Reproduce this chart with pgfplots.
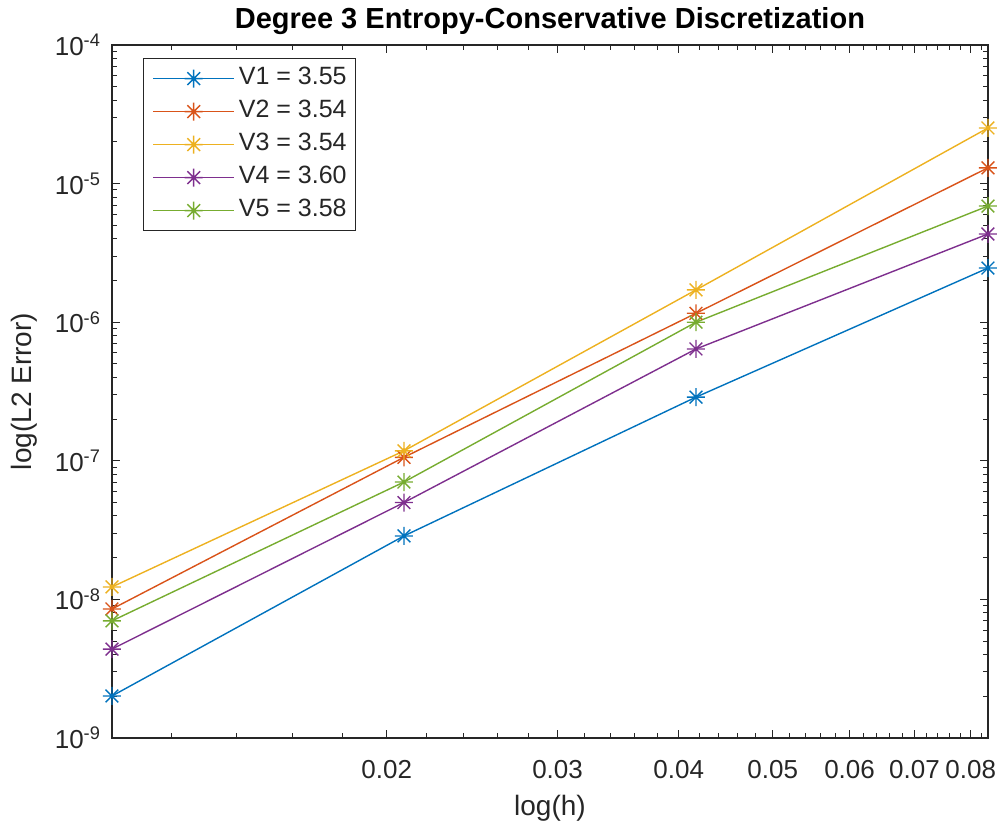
\documentclass[border=0pt]{standalone}
\usepackage{fontspec}
\setmainfont{Liberation Sans}
\usepackage{pgfplots}
\pgfplotsset{compat=1.18}
\definecolor{c1}{rgb}{0,0.447,0.741}
\definecolor{c2}{rgb}{0.85,0.325,0.098}
\definecolor{c3}{rgb}{0.929,0.694,0.125}
\definecolor{c4}{rgb}{0.494,0.184,0.556}
\definecolor{c5}{rgb}{0.466,0.674,0.188}
\definecolor{axgray}{rgb}{0.15,0.15,0.15}
\pgfdeclareplotmark{mast}{%
 \pgfpathmoveto{\pgfpoint{-\pgfplotmarksize}{0pt}}\pgfpathlineto{\pgfpoint{\pgfplotmarksize}{0pt}}%
 \pgfpathmoveto{\pgfpoint{0pt}{-\pgfplotmarksize}}\pgfpathlineto{\pgfpoint{0pt}{\pgfplotmarksize}}%
 \pgfpathmoveto{\pgfpoint{-0.707\pgfplotmarksize}{-0.707\pgfplotmarksize}}\pgfpathlineto{\pgfpoint{0.707\pgfplotmarksize}{0.707\pgfplotmarksize}}%
 \pgfpathmoveto{\pgfpoint{-0.707\pgfplotmarksize}{0.707\pgfplotmarksize}}\pgfpathlineto{\pgfpoint{0.707\pgfplotmarksize}{-0.707\pgfplotmarksize}}%
 \pgfusepathqstroke}
\begin{document}
\begin{tikzpicture}
\useasboundingbox (-56pt,-45pt) rectangle (447pt,369pt);
\begin{loglogaxis}[
  at={(0,0)}, anchor=south west,
  scale only axis, width=438pt, height=346.5pt,
  xmin=0.0104167, xmax=0.0833333,
  ymin=1e-9, ymax=1e-4,
  clip=false,
  xtick={0.02,0.03,0.04,0.05,0.06,0.07,0.08},
  xticklabels={0.02,0.03,0.04,0.05,0.06,0.07,0.08},
  minor xtick={0.012,0.014,0.016,0.018,0.022,0.024,0.026,0.028,0.032,0.034,0.036,0.038,0.042,0.044,0.046,0.048,0.052,0.054,0.056,0.058,0.062,0.064,0.066,0.068,0.072,0.074,0.076,0.078,0.082},
  ytick={1e-9,1e-8,1e-7,1e-6,1e-5,1e-4},
  yticklabels={10\textsuperscript{-9},10\textsuperscript{-8},10\textsuperscript{-7},10\textsuperscript{-6},10\textsuperscript{-5},10\textsuperscript{-4}},
  minor ytick={2e-9,3e-9,4e-9,5e-9,6e-9,7e-9,8e-9,9e-9,2e-8,3e-8,4e-8,5e-8,6e-8,7e-8,8e-8,9e-8,2e-7,3e-7,4e-7,5e-7,6e-7,7e-7,8e-7,9e-7,2e-6,3e-6,4e-6,5e-6,6e-6,7e-6,8e-6,9e-6,2e-5,3e-5,4e-5,5e-5,6e-5,7e-5,8e-5,9e-5},
  tick pos=both, tick align=inside,
  major tick length=4pt, minor tick length=2.5pt,
  every tick/.style={axgray, line width=0.5pt},
  axis line style={axgray, line width=0.6pt},
  xticklabel style={anchor=base, yshift=-20pt, text=axgray, font=\fontsize{13}{15}\selectfont},
  yticklabel style={anchor=east, xshift=-2pt, text=axgray, font=\fontsize{13}{15}\selectfont},
  title={Degree 3 Entropy-Conservative Discretization},
  title style={at={(0.5,1)}, anchor=base, yshift=2.5pt, font=\bfseries\fontsize{14.5}{16}\selectfont},
  xlabel={log(h)},
  xlabel style={at={(axis description cs:0.5,0)}, anchor=base, yshift=-38.5pt, text=axgray, font=\fontsize{14}{16}\selectfont},
  ylabel={log(L2 Error)},
  ylabel style={at={(axis description cs:-0.0913,0.5)}, anchor=base, rotate=0, text=axgray, font=\fontsize{14}{16}\selectfont},
  legend cell align=left,
  legend image code/.code={\draw[mark repeat=2,mark phase=2] plot coordinates {(0pt,0pt) (20.25pt,0pt) (40.5pt,0pt)};},
  legend style={at={(axis description cs:0,1)}, xshift=15.5pt, yshift=-6.5pt, anchor=north west,
    draw=axgray, line width=0.5pt, inner xsep=4.5pt, inner ysep=4.5pt, row sep=5.4pt, column sep=2pt,
    font=\fontsize{12.5}{15}\selectfont, text=axgray,
    nodes={inner sep=0pt, text height=8.6pt, text depth=2.5pt}},
  every axis plot/.append style={line width=0.7pt, mark=mast, mark size=4.5pt, mark options={solid}},
]
\addplot[c1] coordinates {(0.0104167,2.01e-9) (0.0208333,2.87e-8) (0.0416667,2.88e-7) (0.0833333,2.46e-6)};
\addplot[c2] coordinates {(0.0104167,8.53e-9) (0.0208333,1.06e-7) (0.0416667,1.16e-6) (0.0833333,1.30e-5)};
\addplot[c3] coordinates {(0.0104167,1.23e-8) (0.0208333,1.18e-7) (0.0416667,1.71e-6) (0.0833333,2.52e-5)};
\addplot[c4] coordinates {(0.0104167,4.38e-9) (0.0208333,5.00e-8) (0.0416667,6.41e-7) (0.0833333,4.33e-6)};
\addplot[c5] coordinates {(0.0104167,7.00e-9) (0.0208333,7.03e-8) (0.0416667,1.00e-6) (0.0833333,6.89e-6)};
\legend{V1 = 3.55, V2 = 3.54, V3 = 3.54, V4 = 3.60, V5 = 3.58}
\end{loglogaxis}
\end{tikzpicture}
\end{document}
